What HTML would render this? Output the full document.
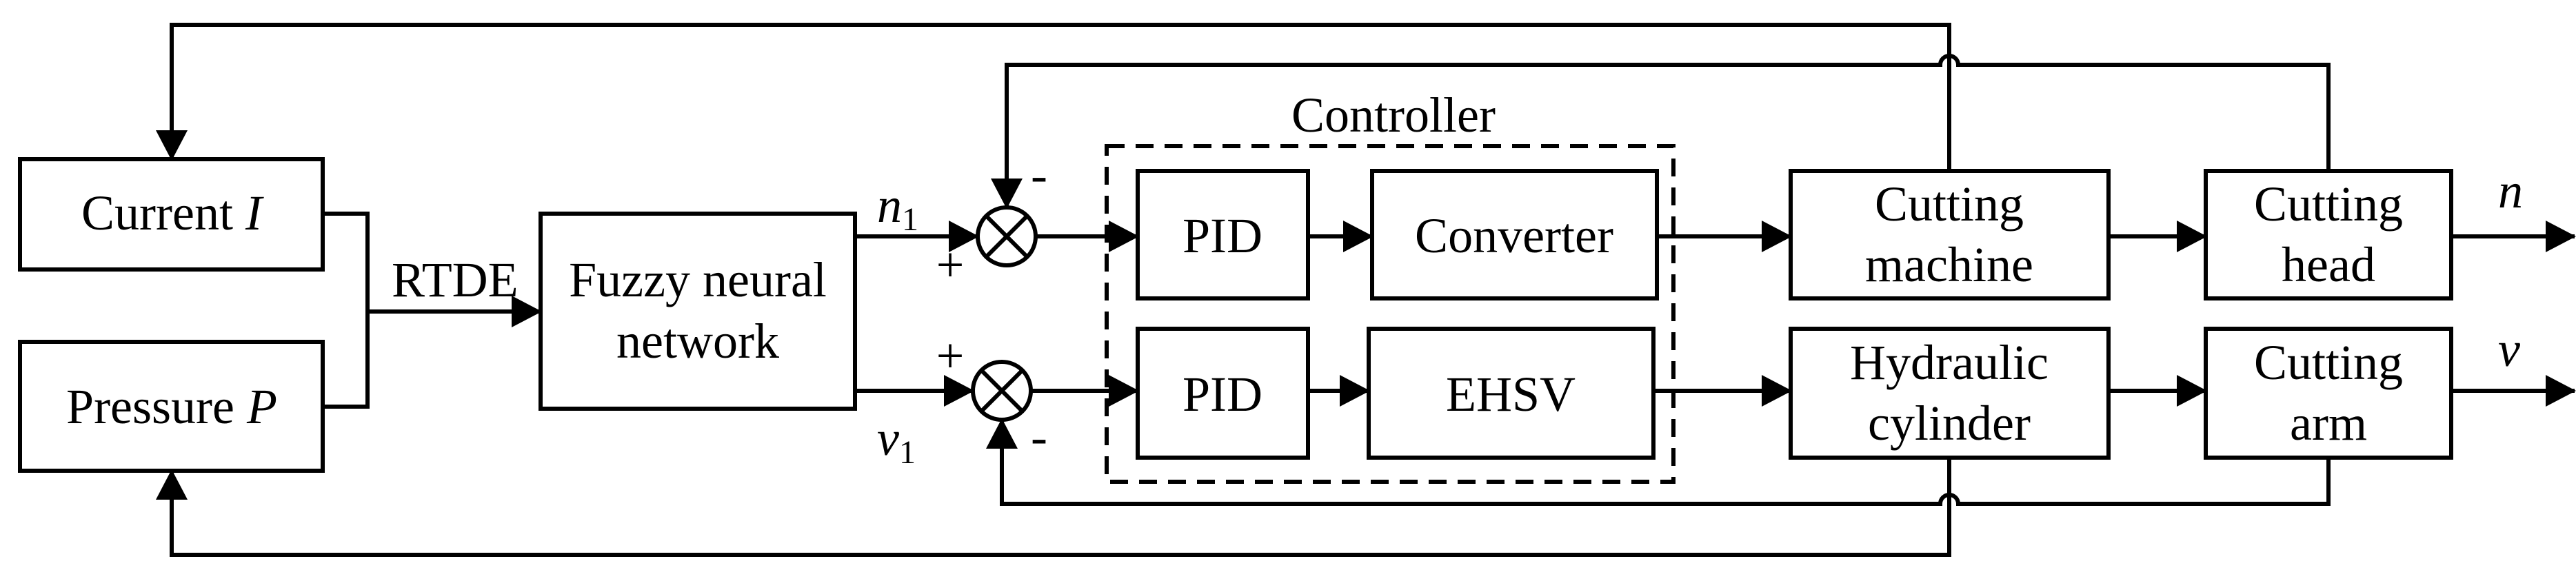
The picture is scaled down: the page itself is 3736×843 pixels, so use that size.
<!DOCTYPE html>
<html><head><meta charset="utf-8"><style>
html,body{margin:0;padding:0;background:#fff;}
svg{display:block;}
text{font-family:"Liberation Serif",serif;font-size:72px;fill:#000;}
</style></head><body>
<svg width="3736" height="843" viewBox="0 0 3736 843" xmlns="http://www.w3.org/2000/svg">
<defs>
<marker id="a" markerWidth="44" markerHeight="46" refX="42" refY="23" orient="auto" markerUnits="userSpaceOnUse">
<path d="M0,0 L44,23 L0,46 Z" fill="#000"/></marker>
</defs>
<g fill="none" stroke="#000" stroke-width="6">
<!-- boxes -->
<rect x="29" y="231" width="439" height="160"/>
<rect x="29" y="496" width="439" height="187"/>
<rect x="784" y="310" width="456" height="283"/>
<rect x="1650" y="248" width="247" height="185"/>
<rect x="1990" y="248" width="413" height="185"/>
<rect x="1650" y="477" width="247" height="187"/>
<rect x="1985" y="477" width="413" height="187"/>
<rect x="2597" y="248" width="461" height="185"/>
<rect x="3199" y="248" width="356" height="185"/>
<rect x="2597" y="477" width="461" height="187"/>
<rect x="3199" y="477" width="356" height="187"/>
<rect x="1605" y="212" width="822" height="487" stroke-dasharray="26,16"/>
<!-- sum circles -->
<circle cx="1460" cy="343" r="42"/>
<path d="M1430,313 L1490,373 M1490,313 L1430,373"/>
<circle cx="1453" cy="567" r="42"/>
<path d="M1423,537 L1483,597 M1483,537 L1423,597"/>
<!-- left section -->
<path d="M468,310 H533 V590 H468"/>
<path d="M533,452 H784" marker-end="url(#a)"/>
<path d="M1240,343 H1418" marker-end="url(#a)"/>
<path d="M1240,567 H1411" marker-end="url(#a)"/>
<!-- forward paths -->
<path d="M1502,343 H1650" marker-end="url(#a)"/>
<path d="M1897,343 H1990" marker-end="url(#a)"/>
<path d="M2403,343 H2597" marker-end="url(#a)"/>
<path d="M3058,343 H3199" marker-end="url(#a)"/>
<path d="M3555,343 H3734" marker-end="url(#a)"/>
<path d="M1495,567 H1650" marker-end="url(#a)"/>
<path d="M1897,567 H1985" marker-end="url(#a)"/>
<path d="M2398,567 H2597" marker-end="url(#a)"/>
<path d="M3058,567 H3199" marker-end="url(#a)"/>
<path d="M3555,567 H3734" marker-end="url(#a)"/>
<!-- feedback loops -->
<path d="M2827,248 V36 H249 V231" marker-end="url(#a)"/>
<path d="M3377,248 V94 H2840 A13,13 0 0 0 2814,94 H1460 V301" marker-end="url(#a)"/>
<path d="M2827,664 V805 H249 V683" marker-end="url(#a)"/>
<path d="M3377,664 V731 H2840 A13,13 0 0 0 2814,731 H1453 V609" marker-end="url(#a)"/>
</g>
<text x="249" y="333" text-anchor="middle">Current <tspan font-style="italic">I</tspan></text>
<text x="249" y="614" text-anchor="middle">Pressure <tspan font-style="italic">P</tspan></text>
<text x="568" y="430">RTDE</text>
<text x="1012" y="430" text-anchor="middle">Fuzzy neural</text>
<text x="1012" y="519" text-anchor="middle">network</text>
<text x="1272" y="322" font-style="italic">n<tspan font-size="48" font-style="normal" dy="12">1</tspan></text>
<text x="1272" y="660" font-style="italic">v<tspan font-size="48" font-style="normal" dy="12">1</tspan></text>
<text x="1378" y="408" text-anchor="middle" font-size="60">+</text>
<text x="1378" y="540" text-anchor="middle" font-size="60">+</text>
<text x="1507" y="278" text-anchor="middle" font-size="60">-</text>
<text x="1507" y="658" text-anchor="middle" font-size="60">-</text>
<text x="2021" y="191" text-anchor="middle">Controller</text>
<text x="1773" y="366" text-anchor="middle">PID</text>
<text x="2196" y="366" text-anchor="middle">Converter</text>
<text x="1773" y="596" text-anchor="middle">PID</text>
<text x="2191" y="596" text-anchor="middle">EHSV</text>
<text x="2827" y="320" text-anchor="middle">Cutting</text>
<text x="2827" y="408" text-anchor="middle">machine</text>
<text x="3377" y="320" text-anchor="middle">Cutting</text>
<text x="3377" y="408" text-anchor="middle">head</text>
<text x="2827" y="550" text-anchor="middle">Hydraulic</text>
<text x="2827" y="638" text-anchor="middle">cylinder</text>
<text x="3377" y="550" text-anchor="middle">Cutting</text>
<text x="3377" y="638" text-anchor="middle">arm</text>
<text x="3623" y="301" font-style="italic">n</text>
<text x="3623" y="531" font-style="italic">v</text>
</svg>
</body></html>
